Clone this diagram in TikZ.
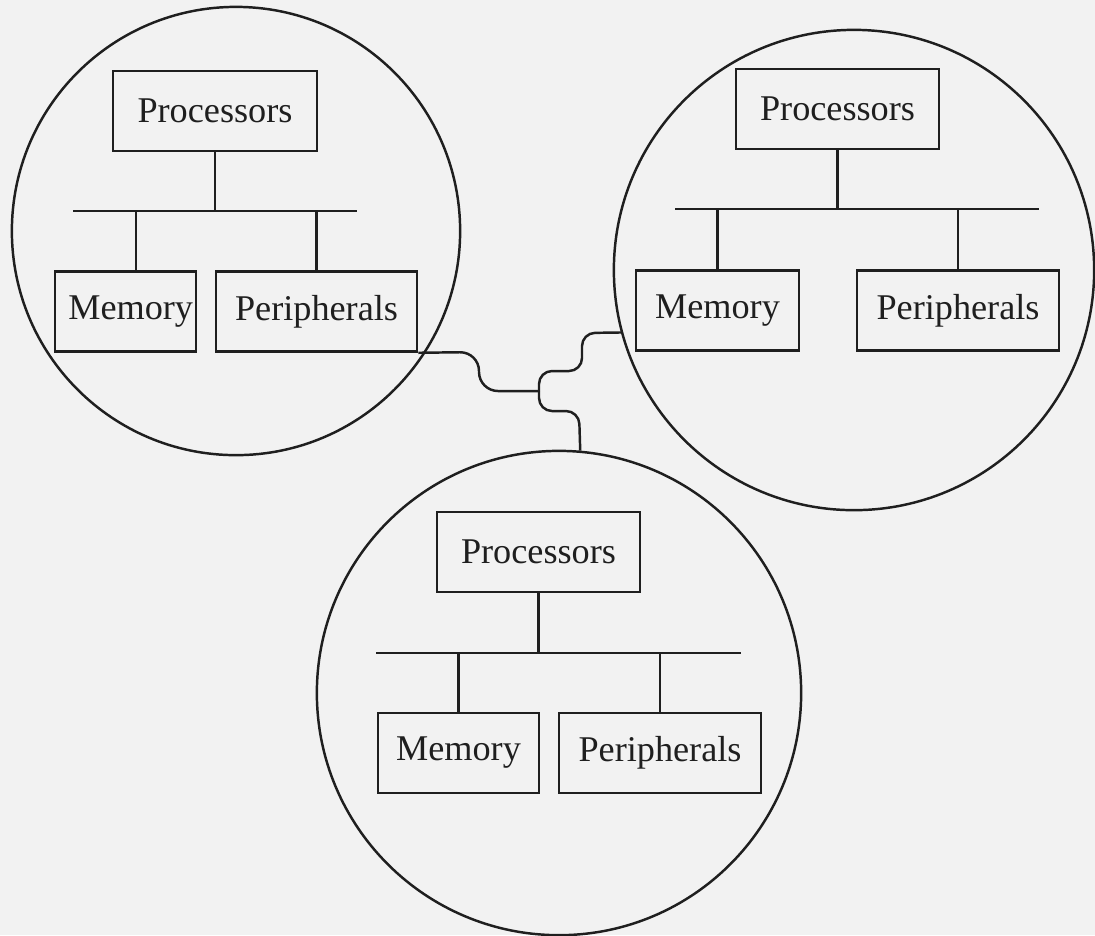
\documentclass[tikz,border=0pt]{standalone}
\usepackage{fontspec}
\setmainfont{Liberation Serif}

\begin{document}
\begin{tikzpicture}[
  x=0.01cm, y=-0.01cm,
  font=\fontsize{10.3}{12}\selectfont,
  line width=0.7pt, color=black!88,
  unit/.style={draw, minimum height=0.8cm, inner sep=0pt},
  site/.style={draw, circle, inner sep=0pt},
  bus/.style={draw},
  wire/.style={draw, rounded corners=1.3mm}
]
\fill[black!5] (0,0) rectangle (1095,935);
\useasboundingbox (0,0) rectangle (1095,935);

\node[site, minimum size=4.48cm] (c1) at (236,231) {};
\node[site, minimum size=4.80cm] (c2) at (854,270) {};
\node[site, minimum size=4.84cm] (c3) at (559,693) {};

\node[unit, minimum width=2.04cm] (proc1) at (215,111) {Processors};
\node[unit, minimum width=1.41cm, text width=1.35cm, align=right] (mem1) at (125.5,311.5) {Memory};
\node[unit, minimum width=2.01cm] (per1) at (316.5,311.5) {Peripherals};
\coordinate (b1w) at (73,211);
\coordinate (b1e) at (357,211);
\coordinate (t1) at (136,211);
\draw[bus] (b1w) -- (b1e);
\draw (proc1.south) -- (proc1.south |- b1w);
\draw (t1) -- (t1 |- mem1.north);
\draw (per1.north) -- (per1.north |- b1w);

\node[unit, minimum width=2.03cm] (proc2) at (837.5,109) {Processors};
\node[unit, minimum width=1.63cm] (mem2) at (717.5,310.5) {Memory};
\node[unit, minimum width=2.02cm] (per2) at (958,310.5) {Peripherals};
\coordinate (b2w) at (675,209);
\coordinate (b2e) at (1039,209);
\draw[bus] (b2w) -- (b2e);
\draw (proc2.south) -- (proc2.south |- b2w);
\draw (mem2.north) -- (mem2.north |- b2w);
\draw (per2.north) -- (per2.north |- b2w);

\node[unit, minimum width=2.03cm] (proc3) at (538.5,552) {Processors};
\node[unit, minimum width=1.61cm] (mem3) at (458.5,753) {Memory};
\node[unit, minimum width=2.02cm] (per3) at (660,753) {Peripherals};
\coordinate (b3w) at (376,653);
\coordinate (b3e) at (741,653);
\draw[bus] (b3w) -- (b3e);
\draw (proc3.south) -- (proc3.south |- b3w);
\draw (mem3.north) -- (mem3.north |- b3w);
\draw (per3.north) -- (per3.north |- b3w);

\coordinate (j) at (539,391);
\draw[wire, rounded corners=1.9mm] (per1.south east) -- (479,352) -- (479,391) -- (j);
\draw[wire] (j) -- (539,371) -- (582,371) -- (582,333) -- (c2.195);
\draw[wire] (j) -- (539,411) -- (579,411) -- (c3.85);
\end{tikzpicture}
\end{document}
